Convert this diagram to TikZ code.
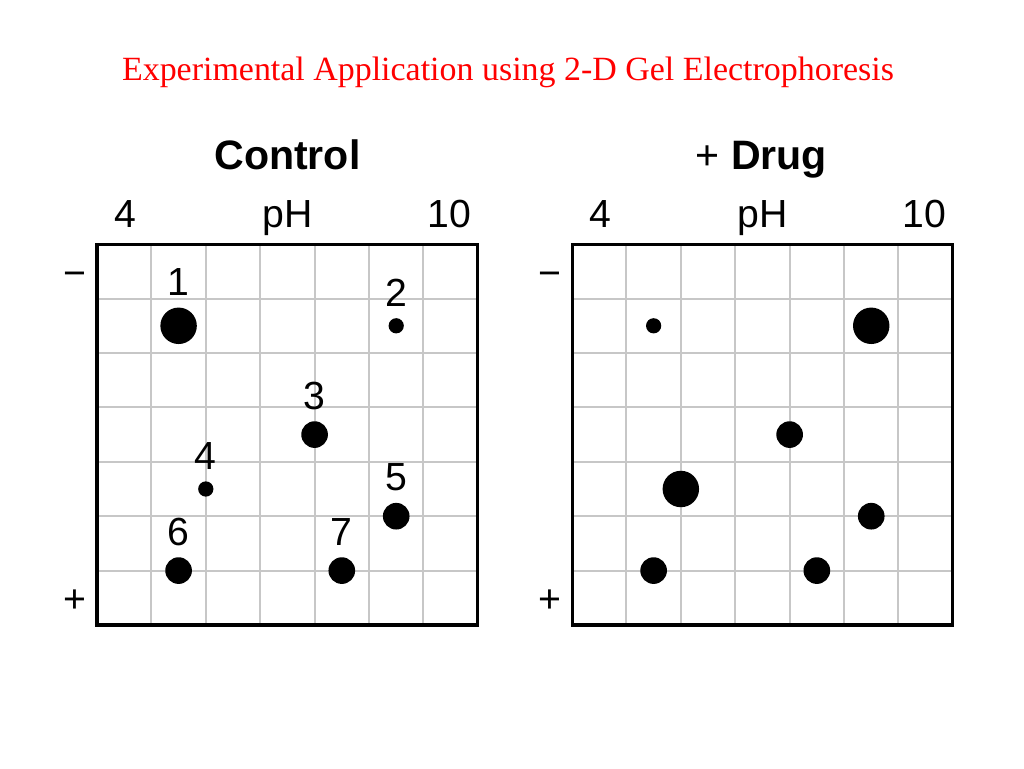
\documentclass[tikz,border=0pt]{standalone}
\usepackage{fontspec}
\setmainfont{Liberation Serif}
\setsansfont{Liberation Sans}
\usetikzlibrary{positioning}
\begin{document}
\begin{tikzpicture}[
	gridline/.style={draw=black!22, line width=1pt},
	frame/.style={draw=black, line width=1.6pt},
	lbl/.style={font=\sffamily\fontsize{20.5pt}{24pt}\selectfont, inner sep=0pt},
	axislbl/.style={lbl, anchor=base},
	headlbl/.style={anchor=base, inner sep=0pt, font=\sffamily\fontsize{21.5pt}{26pt}\selectfont},
	spot/.style={circle, fill=black, inner sep=0pt},
	bigspot/.style={spot, minimum size=0.67cm},
	midspot/.style={spot, minimum size=0.49cm},
	smallspot/.style={spot, minimum size=0.28cm}]
	\useasboundingbox (-1.783,-2.629) rectangle (17.040,11.489);
	\node[anchor=base, text=red, font=\fontsize{17.75pt}{21pt}\selectfont, inner sep=0pt] (title) at (7.555,10.018)
	{Experimental Application using 2-D Gel Electrophoresis};
	% control gel
	\begin{scope}
	\draw[gridline] (0,0) grid (7,7);
	\draw[frame] (0,0) rectangle (7,7);
	\node[headlbl] (ctitle) at (3.5,8.364) {\bfseries Control};
	\node[axislbl] (clow) at (0.515,7.298) {4};
	\node[axislbl] (cph) at (3.51,7.298) {pH};
	\node[axislbl] (chigh) at (6.48,7.298) {10};
	\node[lbl] (cminus) at (-0.404,6.346) {−};
	\node[lbl] (cplus) at (-0.404,0.438) {+};
	\node[bigspot] (c1) at (1.5,5.5) {};
	\node[smallspot] (c2) at (5.5,5.5) {};
	\node[midspot] (c3) at (4.0,3.5) {};
	\node[smallspot] (c4) at (2.0,2.5) {};
	\node[midspot] (c5) at (5.5,2.0) {};
	\node[midspot] (c6) at (1.5,1.0) {};
	\node[midspot] (c7) at (4.5,1.0) {};
	\foreach \n in {1,...,7}
		\node[lbl, above=0.2cm of c\n] (c\n num) {\n};
	\end{scope}
	% drug gel
	\begin{scope}[shift={(8.732,0)}]
	\draw[gridline] (0,0) grid (7,7);
	\draw[frame] (0,0) rectangle (7,7);
	\node[headlbl] (dtitle) at (3.48,8.364) {+ \bfseries Drug};
	\node[axislbl] (dlow) at (0.515,7.298) {4};
	\node[axislbl] (dph) at (3.51,7.298) {pH};
	\node[axislbl] (dhigh) at (6.48,7.298) {10};
	\node[lbl] (dminus) at (-0.404,6.346) {−};
	\node[lbl] (dplus) at (-0.404,0.438) {+};
	\node[smallspot] (d1) at (1.5,5.5) {};
	\node[bigspot] (d2) at (5.5,5.5) {};
	\node[midspot] (d3) at (4.0,3.5) {};
	\node[bigspot] (d4) at (2.0,2.5) {};
	\node[midspot] (d5) at (5.5,2.0) {};
	\node[midspot] (d6) at (1.5,1.0) {};
	\node[midspot] (d7) at (4.5,1.0) {};
	\end{scope}
\end{tikzpicture}
\end{document}
